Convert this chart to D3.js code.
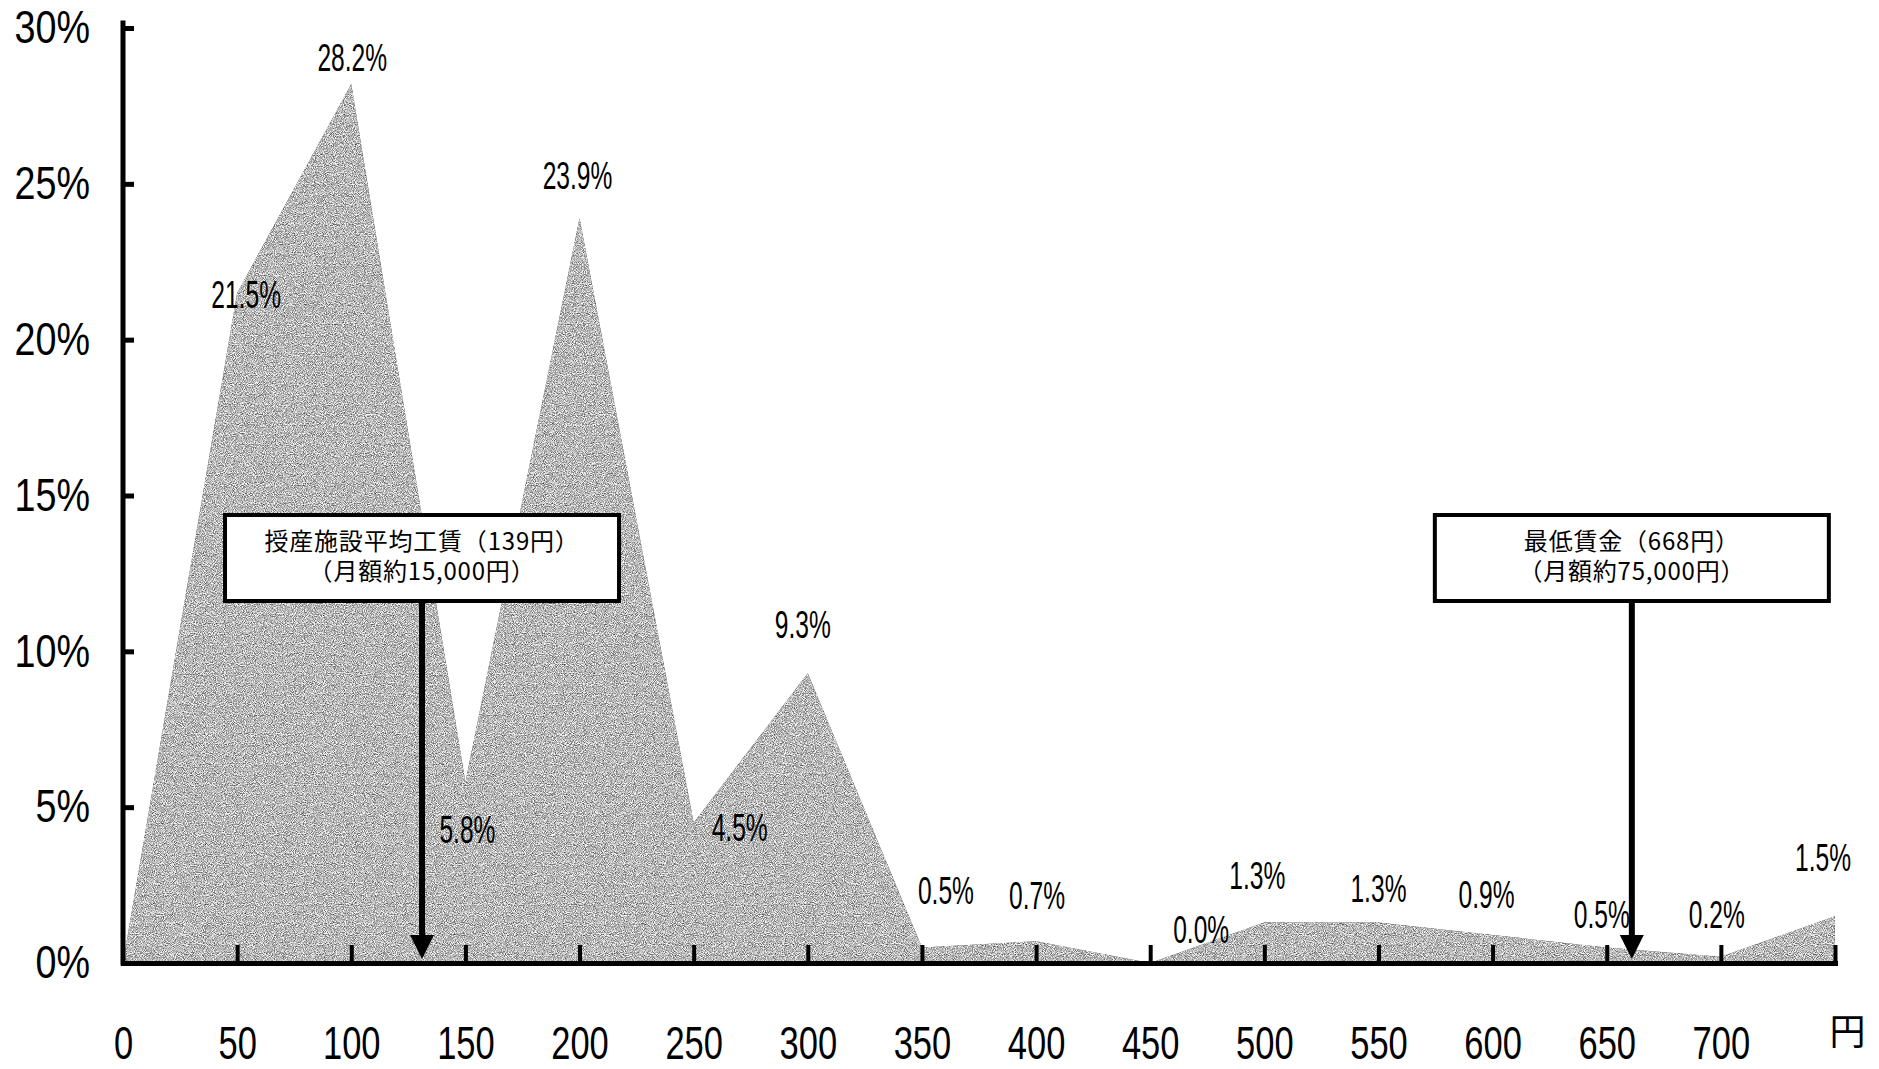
<!DOCTYPE html>
<html>
<head>
<meta charset="utf-8">
<script src="https://cdn.jsdelivr.net/npm/d3@7"></script>
<style>
  body { margin: 0; background: #fff; }
  svg { display: block; }
  .num { font-family: "Liberation Sans", Arial, sans-serif; fill: #000; }
  .jp  { font-family: "Noto Sans CJK JP", sans-serif; fill: #000; }
</style>
</head>
<body>
<div id="chart"></div>
<script>
// 時給の分布（円）と割合（%）
const wageBins   = [0, 50, 100, 150, 200, 250, 300, 350, 400, 450, 500, 550, 600, 650, 700, 750];
const shares     = [0, 21.5, 28.2, 5.8, 23.9, 4.5, 9.3, 0.5, 0.7, 0.0, 1.3, 1.3, 0.9, 0.5, 0.2, 1.5];
const yTicks     = [0, 5, 10, 15, 20, 25, 30];
const unitLabel  = '円';

// annotation boxes: where the arrow points on the wage axis, and the two text lines
const noteWages  = [131, 661];
const noteLines  = [
  ['授産施設平均工賃（139円）', '（月額約15,000円）'],
  ['最低賃金（668円）', '（月額約75,000円）'],
];

// label nudges (px) relative to each point, same order as shares
const labelNudge = [
  null, [9, 1], [1, -27], [2, 47], [-2, -43], [46, 4], [-5, -49], [24, -57],
  [1, -46], [51, -34], [-7, -47], [0, -34], [-6, -41], [-5, -33], [-4, -43], [-12, -59],
];

const W = 1879, H = 1069;
const margin = { top: 28, right: 44, bottom: 106, left: 123 };
const narrow = 0.82;   // Arial Narrow look from Liberation Sans

const svg = d3.select('#chart').append('svg')
  .attr('width', W)
  .attr('height', H);

// ── grainy halftone-ish fill ────────────────────────────────────────────────
const defs = svg.append('defs');
const grain = defs.append('filter').attr('id', 'grain')
  .attr('x', 0).attr('y', 0).attr('width', '100%').attr('height', '100%')
  .attr('color-interpolation-filters', 'sRGB');
grain.append('feTurbulence')
  .attr('type', 'fractalNoise').attr('baseFrequency', 1.1)
  .attr('numOctaves', 1).attr('seed', 7).attr('result', 'noise');
grain.append('feColorMatrix')
  .attr('in', 'noise').attr('type', 'matrix')
  .attr('values', '1 0 0 0 0  1 0 0 0 0  1 0 0 0 0  0 0 0 0 1')
  .attr('result', 'gray');
grain.append('feComposite')
  .attr('in', 'SourceGraphic').attr('in2', 'gray')
  .attr('operator', 'arithmetic')
  .attr('k1', 0).attr('k2', 1).attr('k3', 1.5).attr('k4', -0.72)
  .attr('result', 'mixed');
grain.append('feComposite')
  .attr('in', 'mixed').attr('in2', 'SourceGraphic')
  .attr('operator', 'in');

// ── scales ───────────────────────────────────────────────────────────────────
const x = d3.scaleLinear()
  .domain([0, 750])
  .range([margin.left, W - margin.right]);

const y = d3.scaleLinear()
  .domain([0, 30])
  .range([H - margin.bottom, margin.top]);

const points = wageBins.map((w, i) => ({ w, v: shares[i], i }));

// ── area ─────────────────────────────────────────────────────────────────────
const area = d3.area()
  .x(d => x(d.w))
  .y0(y(0))
  .y1(d => y(d.v));

svg.append('path')
  .datum(points)
  .attr('d', area)
  .attr('fill', '#b0b0b0')
  .attr('filter', 'url(#grain)');

// ── axes ─────────────────────────────────────────────────────────────────────
const yAxis = d3.axisLeft(y)
  .tickValues(yTicks)
  .tickFormat(d => d + '%')
  .tickSizeInner(-11)
  .tickSizeOuter(0)
  .tickPadding(33);

const gy = svg.append('g')
  .attr('transform', `translate(${margin.left},0)`)
  .call(yAxis);

gy.select('.domain')
  .attr('stroke', '#000')
  .attr('stroke-width', 5)
  .attr('stroke-linecap', 'square')
  .attr('d', `M0,${y(0)}V${y(30) - 5}`);
gy.selectAll('.tick line').attr('stroke', '#000').attr('stroke-width', 5);
gy.selectAll('.tick text')
  .attr('class', 'num')
  .attr('fill', '#000')
  .attr('x', -33 / narrow)
  .attr('transform', `scale(${narrow},1)`)
  .style('font-size', '46px');

const xAxis = d3.axisBottom(x)
  .tickValues(wageBins)
  .tickFormat(d => d === 750 ? unitLabel : d)
  .tickSizeInner(-18)
  .tickSizeOuter(0)
  .tickPadding(66);

const gx = svg.append('g')
  .attr('transform', `translate(0,${y(0)})`)
  .call(xAxis);

gx.select('.domain')
  .attr('stroke', '#000')
  .attr('stroke-width', 5)
  .attr('stroke-linecap', 'square');
gx.selectAll('.tick line').attr('stroke', '#000').attr('stroke-width', 4);
gx.selectAll('.tick').filter(d => d === 0).select('line').remove();
gx.selectAll('.tick text')
  .attr('class', d => d === 750 ? 'jp' : 'num')
  .attr('fill', '#000')
  .style('font-size', d => d === 750 ? '36px' : '46px')
  .attr('transform', d => d === 750 ? null : 'scale(0.75,1)')
  .attr('dx', d => d === 750 ? 12 : 0)
  .attr('y', d => d === 750 ? 56 : 63);

// ── value labels ─────────────────────────────────────────────────────────────
svg.append('g')
  .selectAll('text')
  .data(points.filter(d => labelNudge[d.i]))
  .join('text')
  .attr('class', 'num')
  .attr('text-anchor', 'middle')
  .attr('transform', d => {
    const [dx, dy] = labelNudge[d.i];
    return `translate(${x(d.w) + dx},${y(d.v) + dy + 14}) scale(${narrow},1.28)`;
  })
  .style('font-size', '30px')
  .text(d => d3.format('.1f')(d.v) + '%');

// ── annotation boxes with arrows ─────────────────────────────────────────────
const boxTop = 515, boxH = 86, boxW = 394;
const notes = svg.append('g')
  .selectAll('g')
  .data(noteWages.map((w, k) => ({ w, lines: noteLines[k] })))
  .join('g');

notes.append('line')
  .attr('x1', d => x(d.w)).attr('x2', d => x(d.w))
  .attr('y1', boxTop + boxH).attr('y2', y(0) - 24)
  .attr('stroke', '#000').attr('stroke-width', 6);

notes.append('path')
  .attr('d', d => {
    const cx = x(d.w), tip = y(0) - 4;
    return `M${cx - 12},${tip - 24}L${cx + 12},${tip - 24}L${cx},${tip}Z`;
  })
  .attr('fill', '#000');

notes.append('rect')
  .attr('x', d => x(d.w) - boxW / 2)
  .attr('y', boxTop)
  .attr('width', boxW)
  .attr('height', boxH)
  .attr('fill', '#fff')
  .attr('stroke', '#000')
  .attr('stroke-width', 4);

const noteText = notes.append('text')
  .attr('class', 'jp')
  .attr('text-anchor', 'middle')
  .style('font-size', '24px')
  .style('letter-spacing', '0.8px');

noteText.selectAll('tspan')
  .data(d => d.lines.map(t => ({ t, cx: x(d.w) })))
  .join('tspan')
  .attr('x', d => d.cx)
  .attr('y', (_, j) => boxTop + 35 + j * 30)
  .text(d => d.t);
</script>
</body>
</html>
